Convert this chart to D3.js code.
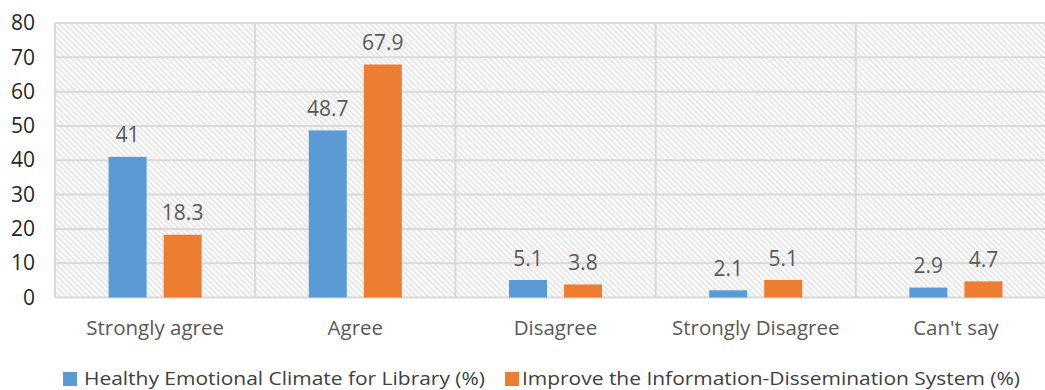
<!DOCTYPE html>
<html>
<head>
<meta charset="utf-8">
<script src="https://cdn.jsdelivr.net/npm/d3@7"></script>
<style>
  html, body { margin: 0; padding: 0; background: #fff; }
  svg { display: block; }
</style>
</head>
<body>
<svg id="chart" width="1045" height="390"></svg>
<script>
// Survey responses per category, in percent
const categories = ["Strongly agree", "Agree", "Disagree", "Strongly Disagree", "Can't say"];
const seriesNames = ["Healthy Emotional Climate for Library (%)", "Improve the Information-Dissemination System (%)"];
const emotionalClimate = [41, 48.7, 5.1, 2.1, 2.9];
const infoDissemination = [18.3, 67.9, 3.8, 5.1, 4.7];
const yTicks = [0, 10, 20, 30, 40, 50, 60, 70, 80];
const seriesColors = ["#5b9bd5", "#ed7d31"];

const seriesValues = [emotionalClimate, infoDissemination];
const rows = categories.map((c, i) => ({
  category: c,
  values: seriesNames.map((s, k) => ({ series: s, value: seriesValues[k][i], color: seriesColors[k] }))
}));

const svg = d3.select("#chart");
const plot = { left: 55, right: 1056, top: 23, bottom: 297.5 };

const x0 = d3.scaleBand().domain(categories).range([plot.left, plot.right]).padding(0);
const x1 = d3.scaleBand().domain(seriesNames).range([0, x0.bandwidth()])
  .paddingInner(0.309).paddingOuter(0.973);
const y = d3.scaleLinear().domain([0, 80]).range([plot.bottom, plot.top]);

// diagonal hatch fill for the plot background
const defs = svg.append("defs");
const pat = defs.append("pattern")
  .attr("id", "hatch")
  .attr("patternUnits", "userSpaceOnUse")
  .attr("width", 4).attr("height", 4)
  .attr("patternTransform", "rotate(-45)");
pat.append("rect").attr("width", 4).attr("height", 4).attr("fill", "#ffffff");
pat.append("line").attr("x1", 1).attr("y1", 0).attr("x2", 1).attr("y2", 4)
  .attr("stroke", "#d4d4d4").attr("stroke-width", 1.1);

svg.append("rect")
  .attr("x", plot.left).attr("y", plot.top)
  .attr("width", plot.right - plot.left).attr("height", plot.bottom - plot.top)
  .attr("fill", "url(#hatch)");

// horizontal gridlines
svg.append("g")
  .selectAll("line").data(yTicks).join("line")
  .attr("x1", plot.left).attr("x2", plot.right)
  .attr("y1", d => y(d)).attr("y2", d => y(d))
  .attr("stroke", "#d9d9d9").attr("stroke-width", 2);

// vertical category dividers
const dividers = categories.map(c => x0(c)).concat([plot.right]);
svg.append("g")
  .selectAll("line").data(dividers).join("line")
  .attr("x1", d => d).attr("x2", d => d)
  .attr("y1", plot.top).attr("y2", plot.bottom)
  .attr("stroke", "#d9d9d9").attr("stroke-width", 2);

// y axis labels
const yAxis = d3.axisLeft(y).tickValues(yTicks).tickSize(0).tickPadding(0);
const yg = svg.append("g").attr("transform", `translate(35,0)`).call(yAxis);
yg.select(".domain").remove();
yg.selectAll("text")
  .attr("font-family", "Open Sans").attr("font-size", 21)
  .attr("fill", "#262626");

// x axis labels
const xAxis = d3.axisBottom(x0).tickSize(0).tickPadding(0);
const xg = svg.append("g").attr("transform", `translate(0,320)`).call(xAxis);
xg.select(".domain").remove();
xg.selectAll("text")
  .attr("font-family", "Open Sans").attr("font-size", 20.5)
  .attr("fill", "#595959");

// bars and value labels
const groups = svg.append("g").selectAll("g").data(rows).join("g")
  .attr("transform", d => `translate(${x0(d.category)},0)`);

groups.selectAll("rect").data(d => d.values).join("rect")
  .attr("x", d => x1(d.series))
  .attr("y", d => y(d.value))
  .attr("width", x1.bandwidth())
  .attr("height", d => y(0) - y(d.value))
  .attr("fill", d => d.color);

groups.selectAll("text").data(d => d.values).join("text")
  .attr("x", d => x1(d.series) + x1.bandwidth() / 2)
  .attr("y", d => y(d.value) - 14.5)
  .attr("text-anchor", "middle")
  .attr("font-family", "Open Sans").attr("font-size", 21)
  .attr("fill", "#595959")
  .text(d => d.value);

// legend
const legendItems = [
  { name: seriesNames[0], color: seriesColors[0], sx: 63, tx: 84, w: 401 },
  { name: seriesNames[1], color: seriesColors[1], sx: 505, tx: 522, w: 498 }
];
const lg = svg.append("g");
lg.selectAll("rect").data(legendItems).join("rect")
  .attr("x", d => d.sx).attr("y", 372)
  .attr("width", 14).attr("height", 14)
  .attr("fill", d => d.color);
lg.selectAll("text").data(legendItems).join("text")
  .attr("x", d => d.tx).attr("y", 385)
  .attr("font-family", "Open Sans").attr("font-size", 19)
  .attr("fill", "#404040")
  .attr("textLength", d => d.w).attr("lengthAdjust", "spacingAndGlyphs")
  .text(d => d.name);
</script>
</body>
</html>
